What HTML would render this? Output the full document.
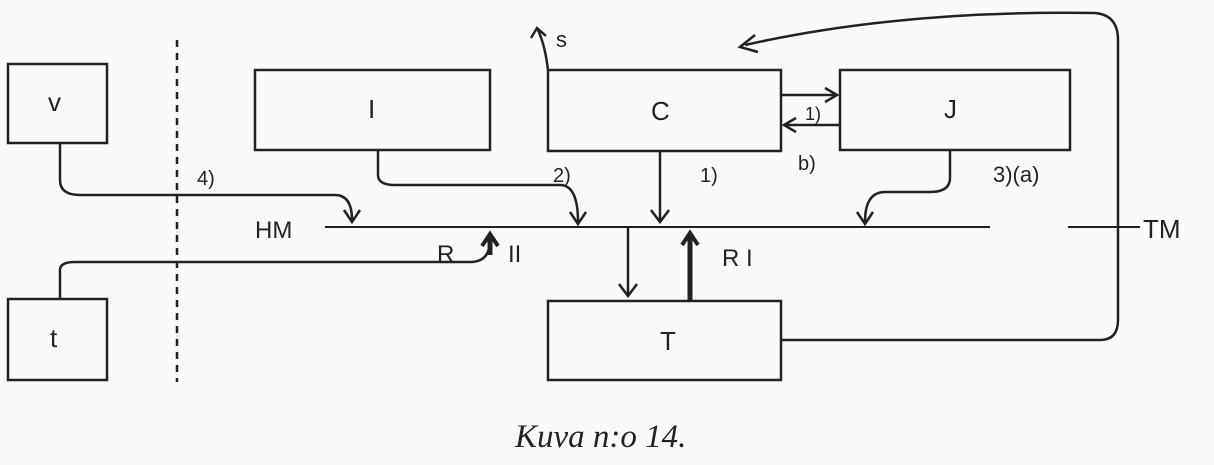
<!DOCTYPE html>
<html><head><style>body{margin:0;background:#fafafa}svg{display:block}</style></head>
<body>
<svg width="1214" height="465" viewBox="0 0 1214 465" xmlns="http://www.w3.org/2000/svg" font-family="Liberation Sans, sans-serif" fill="none" stroke="#222" stroke-width="2.5">
<rect width="1214" height="465" fill="#fafafa" stroke="none"/>
<rect x="8" y="64" width="99" height="79"/>
<rect x="8" y="299" width="99" height="81"/>
<rect x="255" y="70" width="235" height="80"/>
<rect x="548" y="70" width="233" height="81"/>
<rect x="840" y="70" width="230" height="80"/>
<rect x="548" y="301" width="233" height="79"/>
<line x1="177" y1="40" x2="177" y2="382" stroke-dasharray="7,6"/>
<line x1="325" y1="227" x2="990" y2="227" stroke-width="2"/>
<line x1="1068" y1="227" x2="1140" y2="227" stroke-width="2"/>
<path d="M60 143 V180 Q60 195 80 195 H335 Q352 195 352 220"/><path d="M344 210 L352 222 L360 210"/>
<path d="M378 150 V175 Q378 185 395 185 H560 Q578 185 578 222"/><path d="M570 212 L578 224 L586 212"/>
<path d="M660 151 V222"/><path d="M651 210 L660 222 L669 210"/>
<path d="M950 150 V178 Q950 192 930 192 H885 Q865 192 865 222"/><path d="M857 212 L865 224 L873 212"/>
<path d="M628 227 V296"/><path d="M619 284 L628 296 L637 284"/>
<path d="M690 300 V235" stroke-width="5"/><path d="M682 245 L690 233 L698 245" stroke-width="4"/>
<path d="M60 299 V270 Q60 262 75 262 H470 Q490 262 490 240" stroke-width="2.5"/><path d="M490 255 V238" stroke-width="5"/><path d="M482 246 L490 234 L498 246" stroke-width="4"/>
<path d="M781 95 H835"/><path d="M825 88 L837 95 L825 102"/>
<path d="M840 125 H786"/><path d="M796 118 L784 125 L796 132"/>
<path d="M548 70 Q545 45 538 30"/><path d="M531 38 L537 28 L546 36"/>
<path d="M781 340 H1100 Q1118 340 1118 320 V40 Q1118 15 1095 13 Q900 10 745 45"/><path d="M755 35 L740 47 L758 52"/>
<g fill="#222" stroke="none" font-size="26">
<text x="48" y="111">v</text>
<text x="50" y="347">t</text>
<text x="368" y="118">I</text>
<text x="651" y="120">C</text>
<text x="944" y="118">J</text>
<text x="660" y="350">T</text>
<text x="255" y="238" font-size="24">HM</text>
<text x="1143" y="238" font-size="26">TM</text>
<text x="556" y="47" font-size="22">s</text>
<text x="197" y="185" font-size="20">4)</text>
<text x="553" y="182" font-size="20">2)</text>
<text x="700" y="182" font-size="20">1)</text>
<text x="805" y="120" font-size="18">1)</text>
<text x="798" y="170" font-size="20">b)</text>
<text x="993" y="182" font-size="22">3)(a)</text>
<text x="437" y="262" font-size="24">R</text>
<text x="508" y="262" font-size="24">II</text>
<text x="722" y="266" font-size="24">R I</text>
<text x="515" y="447" font-family="Liberation Serif, serif" font-style="italic" font-size="33">Kuva n:o 14.</text>
</g>
</svg>
</body></html>
